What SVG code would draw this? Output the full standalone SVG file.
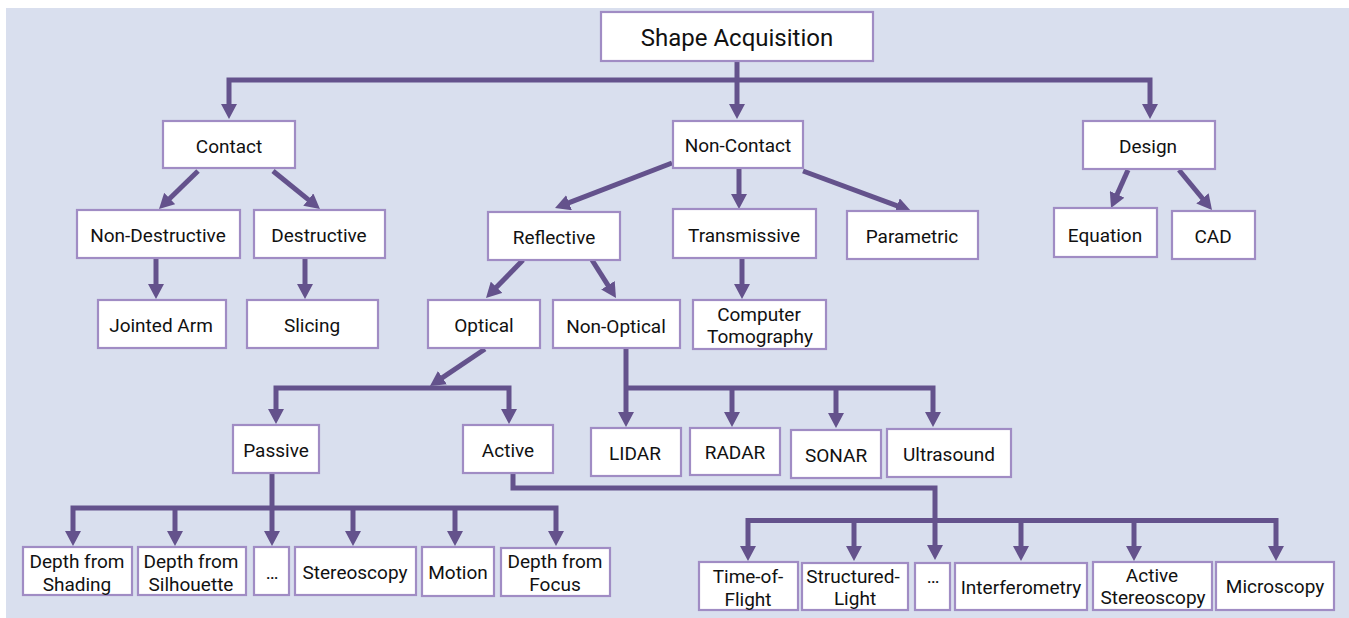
<svg xmlns="http://www.w3.org/2000/svg" width="1349" height="618" viewBox="0 0 1349 618">
<style>
.box{fill:#ffffff;stroke:#a08cc4;stroke-width:2.2}
.t{font-family:Roboto,"Liberation Sans",sans-serif;font-size:19px;fill:#111111;text-anchor:middle}
.big{font-size:24px}
.c{fill:none;stroke:#64528c;stroke-width:5;stroke-linejoin:miter;marker-end:url(#ah)}
.n{fill:none;stroke:#64528c;stroke-width:5}
</style>
<defs>
<marker id="ah" markerUnits="userSpaceOnUse" markerWidth="16" markerHeight="16" refX="4" refY="8" orient="auto" viewBox="0 0 16 16"><path d="M0,0 L15,8 L0,16 Z" fill="#64528c"/></marker>
</defs>
<rect x="6" y="8" width="1343" height="610" fill="#d9dfee"/>
<g id="connectors">
<path class="c" d="M737,61 V108"/>
<path class="c" d="M737,80 H229 V108"/>
<path class="c" d="M737,80 H1150 V108"/>
<path class="c" d="M198,171 L166.9,201.3"/>
<path class="c" d="M273,171 L311.4,202.1"/>
<path class="c" d="M156,258 V288"/>
<path class="c" d="M305,258 V288"/>
<path class="c" d="M672,163 L565.3,204.1"/>
<path class="c" d="M739,168 V198"/>
<path class="c" d="M803,171 L900.7,207.2"/>
<path class="c" d="M1128,170 L1115.5,198"/>
<path class="c" d="M1179,170 L1205,201.5"/>
<path class="c" d="M742,258 V288"/>
<path class="c" d="M523,260 L493.7,290.1"/>
<path class="c" d="M592,260 L610.1,288.7"/>
<path class="c" d="M485,349 L439.1,379.9"/>
<path class="c" d="M430,388 H276 V413"/>
<path class="c" d="M430,388 H509 V413"/>
<path class="c" d="M626,348 V416"/>
<path class="c" d="M626,388 H933 V416"/>
<path class="c" d="M732,388 V416"/>
<path class="c" d="M836,388 V417"/>
<path class="c" d="M272,473 V535"/>
<path class="c" d="M272,508 H73 V535"/>
<path class="c" d="M272,508 H556 V535"/>
<path class="c" d="M175,508 V535"/>
<path class="c" d="M353,508 V535"/>
<path class="c" d="M455,508 V535"/>
<path class="c" d="M513,473 V488 H935 V549"/>
<path class="c" d="M935,520.5 H748 V550"/>
<path class="c" d="M935,520.5 H1276 V550"/>
<path class="c" d="M854,520.5 V550"/>
<path class="c" d="M1021,520.5 V550"/>
<path class="c" d="M1134,520.5 V550"/>
</g>
<g id="shape-acquisition"><rect class="box" x="601" y="12" width="272" height="49"/><text class="t big" x="737" y="46">Shape Acquisition</text></g>
<g id="contact"><rect class="box" x="163" y="121" width="132" height="47"/><text class="t" x="229" y="153">Contact</text></g>
<g id="non-contact"><rect class="box" x="673" y="121" width="130" height="47"/><text class="t" x="738" y="152">Non-Contact</text></g>
<g id="design"><rect class="box" x="1083" y="121" width="132" height="48"/><text class="t" x="1148" y="153">Design</text></g>
<g id="non-destructive"><rect class="box" x="77" y="210" width="163" height="48"/><text class="t" x="158" y="242">Non-Destructive</text></g>
<g id="destructive"><rect class="box" x="254" y="210" width="131" height="48"/><text class="t" x="319" y="242">Destructive</text></g>
<g id="jointed-arm"><rect class="box" x="98" y="300" width="128" height="48"/><text class="t" x="161" y="332">Jointed Arm</text></g>
<g id="slicing"><rect class="box" x="247" y="300" width="131" height="48"/><text class="t" x="312" y="332">Slicing</text></g>
<g id="reflective"><rect class="box" x="488" y="212" width="132" height="48"/><text class="t" x="554" y="244">Reflective</text></g>
<g id="transmissive"><rect class="box" x="673" y="209" width="143" height="49"/><text class="t" x="744" y="242">Transmissive</text></g>
<g id="parametric"><rect class="box" x="847" y="211" width="131" height="48"/><text class="t" x="912" y="243">Parametric</text></g>
<g id="equation"><rect class="box" x="1054" y="208" width="103" height="49"/><text class="t" x="1105" y="242">Equation</text></g>
<g id="cad"><rect class="box" x="1172" y="211" width="83" height="48"/><text class="t" x="1213" y="243">CAD</text></g>
<g id="optical"><rect class="box" x="428" y="300" width="112" height="48"/><text class="t" x="484" y="332">Optical</text></g>
<g id="non-optical"><rect class="box" x="553" y="300" width="127" height="48"/><text class="t" x="616" y="333">Non-Optical</text></g>
<g id="computer-tomography"><rect class="box" x="693" y="300" width="133" height="49"/><text class="t" x="759" y="321">Computer</text><text class="t" x="760" y="343">Tomography</text></g>
<g id="passive"><rect class="box" x="233" y="425" width="86" height="48"/><text class="t" x="276" y="457">Passive</text></g>
<g id="active"><rect class="box" x="463" y="425" width="90" height="48"/><text class="t" x="508" y="457">Active</text></g>
<g id="lidar"><rect class="box" x="591" y="428" width="90" height="48"/><text class="t" x="635" y="460">LIDAR</text></g>
<g id="radar"><rect class="box" x="690" y="428" width="90" height="47"/><text class="t" x="735" y="459">RADAR</text></g>
<g id="sonar"><rect class="box" x="791" y="430" width="90" height="48"/><text class="t" x="836" y="462">SONAR</text></g>
<g id="ultrasound"><rect class="box" x="887" y="429" width="124" height="48"/><text class="t" x="949" y="461">Ultrasound</text></g>
<g id="depth-from-shading"><rect class="box" x="23" y="547" width="109" height="48"/><text class="t" x="77" y="568">Depth from</text><text class="t" x="77" y="591">Shading</text></g>
<g id="depth-from-silhouette"><rect class="box" x="138" y="547" width="108" height="48"/><text class="t" x="191" y="568">Depth from</text><text class="t" x="191" y="591">Silhouette</text></g>
<g id="passive-more"><rect class="box" x="254" y="547" width="35" height="48"/><text class="t" x="272" y="579">…</text></g>
<g id="stereoscopy"><rect class="box" x="295" y="547" width="121" height="48"/><text class="t" x="355" y="579">Stereoscopy</text></g>
<g id="motion"><rect class="box" x="422" y="547" width="72" height="49"/><text class="t" x="458" y="579">Motion</text></g>
<g id="depth-from-focus"><rect class="box" x="501" y="548" width="109" height="48"/><text class="t" x="555" y="568">Depth from</text><text class="t" x="555" y="591">Focus</text></g>
<g id="time-of-flight"><rect class="box" x="699" y="562" width="99" height="48"/><text class="t" x="748" y="583">Time-of-</text><text class="t" x="748" y="606">Flight</text></g>
<g id="structured-light"><rect class="box" x="802" y="563" width="106" height="47"/><text class="t" x="853" y="583">Structured-</text><text class="t" x="855" y="605">Light</text></g>
<g id="active-more"><rect class="box" x="915" y="563" width="35" height="47"/><text class="t" x="933" y="583">…</text></g>
<g id="interferometry"><rect class="box" x="955" y="563" width="132" height="47"/><text class="t" x="1021" y="594">Interferometry</text></g>
<g id="active-stereoscopy"><rect class="box" x="1093" y="562" width="119" height="48"/><text class="t" x="1152" y="582">Active</text><text class="t" x="1153" y="604">Stereoscopy</text></g>
<g id="microscopy"><rect class="box" x="1216" y="562" width="118" height="48"/><text class="t" x="1275" y="593">Microscopy</text></g>
</svg>
